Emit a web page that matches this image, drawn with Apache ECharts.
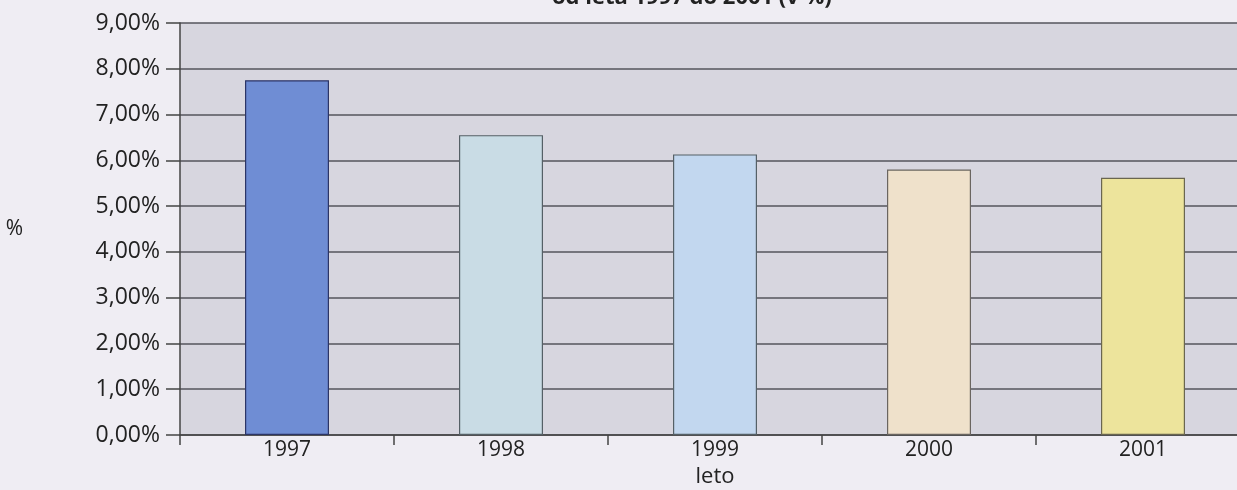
<!DOCTYPE html>
<html>
<head>
<meta charset="utf-8">
<script src="https://cdn.jsdelivr.net/npm/echarts@6/dist/echarts.min.js"></script>
<style>
  html, body { margin: 0; padding: 0; background: #efedf3; }
  #chart { width: 1237px; height: 490px; }
</style>
</head>
<body>
<div id="chart"></div>
<script>
// leta in deleži (v %)
const years = ["1997", "1998", "1999", "2000", "2001"];
const values = [7.75, 6.55, 6.13, 5.8, 5.62];
const barColors = ["#6f8dd4", "#c9dce5", "#c2d7ef", "#efe1cb", "#ede49c"];
const borderColors = ["#2c3566", "#556066", "#556066", "#6a6560", "#6a6650"];

const chart = echarts.init(document.getElementById("chart"));

const option = {
  backgroundColor: "#efedf3",
  animation: false,
  title: {
    text: "od leta 1997 do 2001 (v %)",
    left: 547,
    top: -18,
    textStyle: { fontFamily: "Open Sans", fontSize: 22, fontWeight: "bold", color: "#222" }
  },
  grid: {
    left: 180,
    right: -13,
    top: 23,
    bottom: 55,
    outerBoundsMode: "none",
    containLabel: false,
    show: true,
    backgroundColor: "#d7d6df",
    borderWidth: 0
  },
  xAxis: {
    type: "category",
    data: years,
    name: "leto",
    nameLocation: "middle",
    nameGap: 27,
    nameTextStyle: { fontFamily: "Open Sans", fontSize: 22, color: "#222" },
    axisLine: { lineStyle: { color: "#444", width: 1.5 } },
    axisTick: { show: true, length: 10, lineStyle: { color: "#444", width: 1.5 } },
    axisLabel: { fontFamily: "Open Sans", fontSize: 21, color: "#222", margin: 5 }
  },
  yAxis: {
    type: "value",
    min: 0,
    max: 9,
    interval: 1,
    name: "%",
    nameLocation: "middle",
    nameRotate: 0,
    nameGap: 157,
    nameTextStyle: { fontFamily: "Open Sans", fontSize: 21, color: "#222" },
    axisLine: { show: true, lineStyle: { color: "#444", width: 1.5 } },
    axisTick: { show: true, length: 14, lineStyle: { color: "#444", width: 1.5 } },
    axisLabel: {
      fontFamily: "Open Sans",
      fontSize: 23,
      color: "#222",
      margin: 20,
      formatter: (v) => v.toFixed(2).replace(".", ",") + "%"
    },
    splitLine: { show: true, lineStyle: { color: "#55545c", width: 1.5 } }
  },
  series: [
    {
      type: "bar",
      barWidth: 84,
      data: values.map((v, i) => ({
        value: v,
        itemStyle: { color: barColors[i], borderColor: borderColors[i], borderWidth: 1.2 }
      }))
    }
  ]
};

chart.setOption(option);
</script>
</body>
</html>
